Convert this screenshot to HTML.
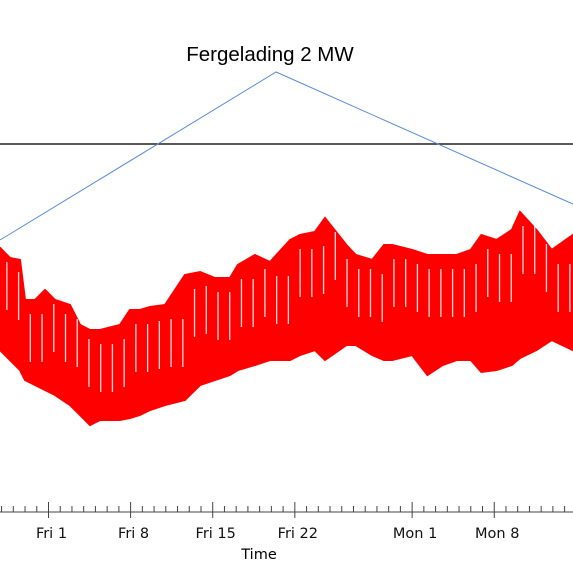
<!DOCTYPE html>
<html><head><meta charset="utf-8"><style>
body{margin:0;background:#fff;}
svg{display:block;font-family:"DejaVu Sans","Liberation Sans",sans-serif;}
</style></head><body>
<svg id="c" width="573" height="586">
<text x="270" y="61" font-size="20.5" text-anchor="middle" font-family="Liberation Sans, sans-serif">Fergelading 2 MW</text>
<text x="259" y="559" font-size="14.5" text-anchor="middle">Time</text>
</svg>
<script>
const majorDays=[0,7,14,21,31,38];
const majorLabels=["Fri 1","Fri 8","Fri 15","Fri 22","Mon 1","Mon 8"];
const envDays=[-4.13,-3.28,-2.43,-2.0,-1.15,-0.3,0.55,1.83,2.69,3.54,4.39,6.09,6.94,7.79,8.65,9.93,11.63,12.92,14.19,15.47,16.14,17.6,18.88,20.6,21.44,22.71,23.57,25.4,26.2,27.6,28.6,29.3,31.0,32.3,33.6,34.8,36.0,36.9,38.2,39.5,40.2,41.6,42.9,44.7];
const upperVals=[2.64,2.54,2.52,2.12,2.12,2.22,2.12,2.07,1.87,1.82,1.82,1.87,2.02,2.02,2.05,2.07,2.37,2.40,2.34,2.34,2.47,2.57,2.50,2.72,2.77,2.80,2.94,2.67,2.57,2.52,2.67,2.67,2.62,2.57,2.57,2.57,2.62,2.77,2.72,2.82,3.00,2.82,2.62,2.77];
const lowerVals=[1.62,1.52,1.42,1.32,1.27,1.22,1.17,1.07,0.97,0.87,0.92,0.92,0.94,0.97,1.02,1.07,1.12,1.27,1.32,1.37,1.42,1.47,1.52,1.52,1.57,1.62,1.52,1.67,1.67,1.57,1.52,1.52,1.57,1.37,1.47,1.52,1.52,1.40,1.42,1.47,1.54,1.62,1.72,1.62];
const refDays=[-4.13,19.4,44.7];
const refVals=[2.72,4.40,3.08];
const thresholdVal=3.68;
const NS="http://www.w3.org/2000/svg";
const svg=document.getElementById('c');
function xS(d){return 48.5+d*11.73;}
function yS(v){return 512-v*100;}
function mk(t,a){const e=document.createElementNS(NS,t);for(const k in a)e.setAttribute(k,a[k]);svg.appendChild(e);return e;}
let pts=[];
for(let i=0;i<envDays.length;i++)pts.push(xS(envDays[i]).toFixed(1)+","+yS(upperVals[i]).toFixed(1));
for(let i=envDays.length-1;i>=0;i--)pts.push(xS(envDays[i]).toFixed(1)+","+yS(lowerVals[i]).toFixed(1));
const area=mk('polygon',{points:pts.join(' '),fill:'#ff0000',stroke:'#ff0000','stroke-width':2});


for(let d=-4;d<45;d++){
  let i=envDays.findIndex(x=>x>d+0.45);if(i<1)i=1;
  const u=yS(upperVals[i-1]);
  const g=mk('line',{x1:xS(d+0.45),x2:xS(d+0.45),y1:u+14,y2:u+62,stroke:'#fff','stroke-width':1.3,opacity:0.85});
  
  
}
const th=mk('line',{x1:0,x2:573,y1:yS(thresholdVal),y2:yS(thresholdVal),stroke:'#222','stroke-width':1.5});


const rl=mk('polyline',{points:refDays.map((d,i)=>xS(d)+","+yS(refVals[i])).join(' '),fill:'none',stroke:'#5b8bd6','stroke-width':1});


const ax=mk('line',{x1:0,x2:573,y1:512,y2:512,stroke:'#444','stroke-width':1});


for(let d=-4;d<=44;d++){
  const maj=majorDays.includes(d);
  const t=mk('line',{x1:xS(d),x2:xS(d),y1:maj?502:506,y2:maj?518:512,stroke:'#444','stroke-width':1});
  
  
}
majorDays.forEach((d,i)=>{
  const t=mk('text',{x:xS(d)+3,y:538,'font-size':14.5,'text-anchor':'middle',fill:'#111'});
  t.textContent=majorLabels[i];
  
  
});
</script>
</body></html>
